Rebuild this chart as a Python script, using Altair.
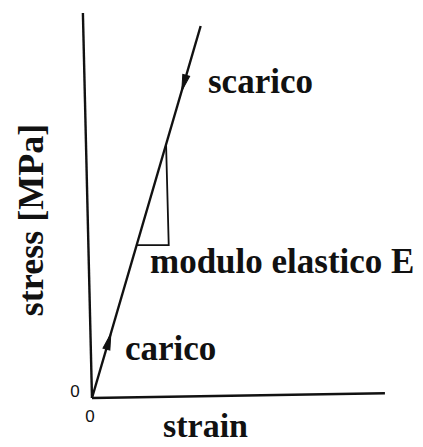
import altair as alt
import pandas as pd

# Schematic stress-strain diagram (arbitrary units)
axis_y_strain = [0.0, -0.31]
axis_y_stress = [0.0, 10.35]
axis_x_strain = [0.0, 10.0]
axis_x_stress = [0.0, 0.13]
curve_strain = [0.0, 3.71]
curve_stress = [0.0, 10.0]
tri_strain = [1.52, 2.62, 2.53]
tri_stress = [4.11, 4.11, 6.80]
arrow_strain = [0.56, 3.15]
arrow_stress = [1.50, 8.49]
arrow_turn = [16, 196]

axes_df = pd.DataFrame({
    "seg": ["y"] * 2 + ["x"] * 2,
    "order": [0, 1, 0, 1],
    "strain": axis_y_strain + axis_x_strain,
    "stress": axis_y_stress + axis_x_stress,
})
curve_df = pd.DataFrame({"order": [0, 1], "strain": curve_strain, "stress": curve_stress})
tri_df = pd.DataFrame({"order": [0, 1, 2], "strain": tri_strain, "stress": tri_stress})
arrow_df = pd.DataFrame({"strain": arrow_strain, "stress": arrow_stress, "turn": arrow_turn})

xs = alt.Scale(domain=[-3.14, 11.30], nice=False, zero=False)
ys = alt.Scale(domain=[-1.317, 10.70], nice=False, zero=False)
X = alt.X("strain:Q", scale=xs, axis=None)
Y = alt.Y("stress:Q", scale=ys, axis=None)

axes = alt.Chart(axes_df).mark_line(color="#111", strokeWidth=2.4).encode(
    x=X, y=Y, detail="seg:N", order="order:Q")
curve = alt.Chart(curve_df).mark_line(color="#111", strokeWidth=2.4).encode(
    x=X, y=Y, order="order:Q")
tri = alt.Chart(tri_df).mark_line(color="#111", strokeWidth=1.8).encode(
    x=X, y=Y, order="order:Q")
# narrow arrowheads along the loading/unloading line
arrows = alt.Chart(arrow_df).mark_point(
    shape="M 0 -1 L 0.4 0.8 L -0.4 0.8 Z", filled=True, fill="#111", stroke="#111",
    strokeWidth=1, size=320, opacity=1
).encode(x=X, y=Y, angle=alt.Angle("turn:Q", scale=None))

serif = dict(font="Liberation Serif", fontWeight="bold", fontSize=35, color="#111")


def label(text, x, y, **kw):
    return alt.Chart(pd.DataFrame({"t": [text]})).mark_text(**{**serif, **kw}).encode(
        text="t:N", x=alt.value(x), y=alt.value(y))


labels = [
    label("scarico", 208, 93, align="left", baseline="alphabetic"),
    label("modulo elastico E", 150, 273, align="left", baseline="alphabetic"),
    label("carico", 125, 360, align="left", baseline="alphabetic"),
    label("strain", 163, 437, align="left", baseline="alphabetic", fontSize=34),
    label("stress [MPa]", 43, 220, align="center", baseline="alphabetic", angle=270, fontSize=36),
]

zeros = alt.Chart(pd.DataFrame({"t": ["0", "0"], "px": [75, 90], "py": [392, 417]})).mark_text(
    font="Liberation Sans", fontSize=17, color="#111", align="center", baseline="middle"
).encode(text="t:N", x=alt.X("px:Q", scale=None, axis=None), y=alt.Y("py:Q", scale=None, axis=None))

chart = alt.layer(axes, curve, tri, arrows, zeros, *labels).properties(
    width=423, height=447, padding=0, autosize=alt.AutoSizeParams(type="none")
).configure_view(stroke=None)

chart.save("out.html", embed_options={"renderer": "svg", "actions": False})
